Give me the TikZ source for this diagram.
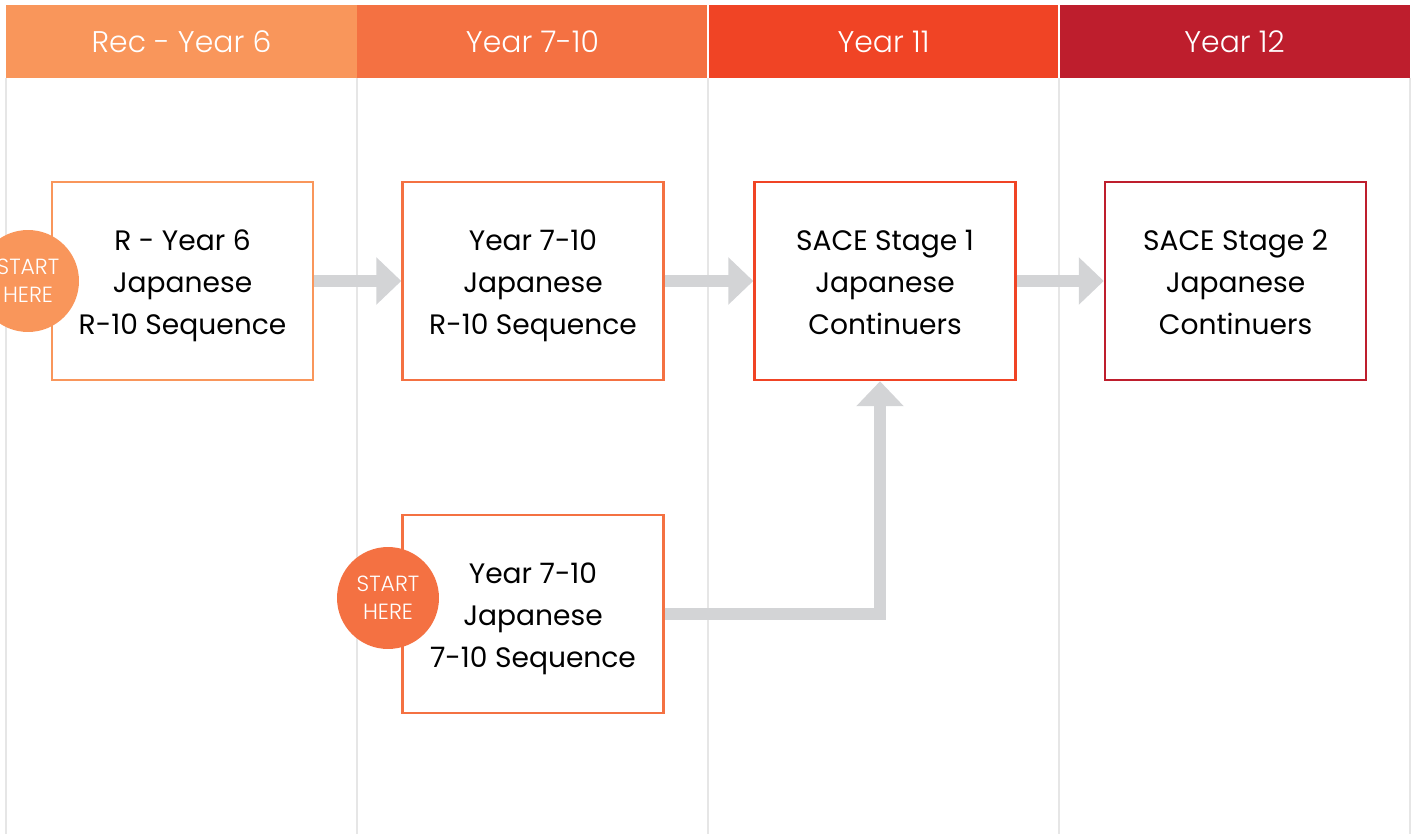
\documentclass[tikz,border=0pt]{standalone}
\usepackage{fontspec}
\setmainfont{Poppins}
\newfontfamily\lightfont{Poppins Light}
\usepackage{tikz}
\usetikzlibrary{arrows.meta}
\definecolor{recorange}{HTML}{F9965B}
\definecolor{midorange}{HTML}{F47142}
\definecolor{elevenred}{HTML}{F04425}
\definecolor{twelvered}{HTML}{BE1E2D}
\definecolor{flowgrey}{HTML}{D3D4D6}
\definecolor{rulegrey}{HTML}{E6E6E6}
\NewDocumentCommand{\jp}{}{Japanese}
\tikzset{/JP/S/band/.style={
	shape=rectangle, fill=#1, text=white, minimum width=7.02cm, minimum height=1.46cm,
	inner sep=0pt, font=\lightfont\fontsize{17}{20}\selectfont
}}
\tikzset{/JP/S/course/.style={
	shape=rectangle, draw=#1, line width=0.05cm, fill=white, minimum width=5.22cm,
	minimum height=3.96cm, align=center, font=\fontsize{16}{24}\selectfont,
	text height=65pt, text depth=4.2pt
}}
\tikzset{/JP/S/start/.style={
	shape=circle, fill=#1, text=white, minimum size=2.04cm, inner sep=0pt,
	align=center, font=\lightfont\fontsize{12.5}{16}\selectfont
}}
\tikzset{/JP/S/advance/.style={
	draw=flowgrey, line width=0.24cm, -{Triangle[width=0.92cm,length=0.5cm]}
}}

\begin{document}
\begin{tikzpicture}[x=0.02cm,y=-0.02cm]
			\useasboundingbox (0,0) rectangle (1415,834);
			\foreach \col in {6,357,708,1059,1410}
				\draw[rulegrey, line width=0.04cm] (\col,78) -- (\col,834);
			\path (181.5,41.5) node[/JP/S/band=recorange] (rec) {Rec - Year 6};
			\path (rec.center) ++ (351,0) node[/JP/S/band=midorange] (mid) {Year 7-10};
			\path (mid.center) ++ (351,0) node[/JP/S/band=elevenred] (eleven) {Year 11};
			\path (eleven.center) ++ (351,0) node[/JP/S/band=twelvered] (twelve) {Year 12};
			\draw[white, line width=0.04cm] (eleven.north west) -- (eleven.south west);
			\draw[white, line width=0.04cm] (twelve.north west) -- (twelve.south west);
			\path (182.5,281) node[/JP/S/course=recorange] (R6) {R - Year 6\\\jp\\R-10 Sequence};
			\path (R6.center) ++ (350.5,0) node[/JP/S/course=midorange] (Y7R) {Year 7-10\\\jp\\R-10 Sequence};
			\path (Y7R.center) ++ (352,0) node[/JP/S/course=elevenred] (S1) {SACE Stage 1\\\jp\\Continuers};
			\path (S1.center) ++ (350.5,0) node[/JP/S/course=twelvered] (S2) {SACE Stage 2\\\jp\\Continuers};
			\path (Y7R.center) ++ (0,333) node[/JP/S/course=midorange] (Y7S) {Year 7-10\\\jp\\7-10 Sequence};
			\path (28,281) node[/JP/S/start=recorange] (startR) {START\\HERE};
			\path (388,598) node[/JP/S/start=midorange] (startY) {START\\HERE};
			\draw[/JP/S/advance] (R6.east) -- (Y7R.west);
			\draw[/JP/S/advance] (Y7R.east) -- (S1.west);
			\draw[/JP/S/advance] (S1.east) -- (S2.west);
			\draw[/JP/S/advance] (Y7S.east) -| ([xshift=-0.1cm]S1.south);
		\end{tikzpicture}
\end{document}
